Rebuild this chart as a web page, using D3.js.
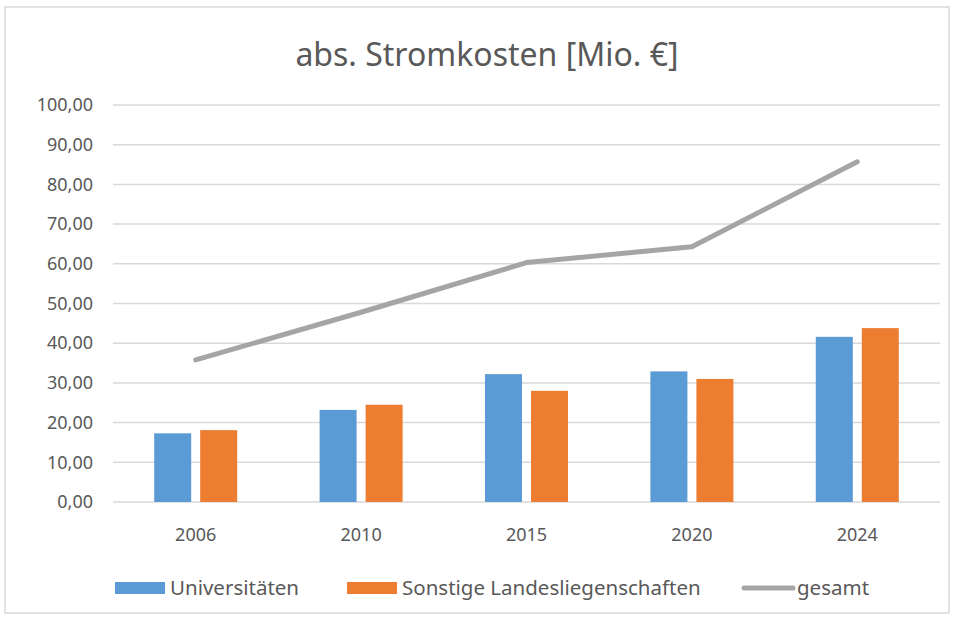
<!DOCTYPE html>
<html>
<head>
<meta charset="utf-8">
<script src="https://cdn.jsdelivr.net/npm/d3@7"></script>
<style>
  body { margin: 0; background: #fff; }
  text { font-family: "Noto Sans", sans-serif; fill: #595959; }
</style>
</head>
<body>
<div id="chart"></div>
<script>
var years = ["2006", "2010", "2015", "2020", "2024"];
var universitaeten = [17.3, 23.2, 32.2, 32.9, 41.6];
var sonstige = [18.1, 24.5, 28.0, 31.0, 43.8];
var gesamt = [35.8, 47.8, 60.3, 64.3, 85.7];
var yTicks = [0, 10, 20, 30, 40, 50, 60, 70, 80, 90, 100];

var blue = "#5b9bd5", orange = "#ed7d31", gray = "#a5a5a5";
var width = 957, height = 621;

var svg = d3.select("#chart").append("svg")
  .attr("width", width)
  .attr("height", height);

// chart frame
svg.append("rect")
  .attr("x", 5).attr("y", 7)
  .attr("width", 944).attr("height", 606)
  .attr("fill", "#fff")
  .attr("stroke", "#d9d9d9")
  .attr("stroke-width", 1.5);

svg.append("text")
  .attr("x", 487).attr("y", 66)
  .attr("text-anchor", "middle")
  .attr("font-size", "32px")
  .text("abs. Stromkosten [Mio. €]");

var x = d3.scaleBand().domain(years).range([113, 940]);
var y = d3.scaleLinear().domain([0, 100]).range([502, 105]);

var fmt = function(d) { return d3.format(".2f")(d).replace(".", ","); };

// grid
svg.append("g").selectAll("line")
  .data(yTicks)
  .enter().append("line")
  .attr("x1", 113).attr("x2", 940)
  .attr("y1", d => y(d)).attr("y2", d => y(d))
  .attr("stroke", "#d9d9d9")
  .attr("stroke-width", 1.5);

var yAxis = svg.append("g")
  .attr("transform", "translate(100,0)")
  .call(d3.axisLeft(y).tickValues(yTicks).tickFormat(fmt).tickSize(0).tickPadding(0));
yAxis.select(".domain").remove();
yAxis.selectAll("text").attr("font-size", "18px").attr("fill", "#595959").attr("x", -7);

var xAxis = svg.append("g")
  .attr("transform", "translate(0,502)")
  .call(d3.axisBottom(x).tickSize(0).tickPadding(0));
xAxis.select(".domain").remove();
xAxis.selectAll("text").attr("font-size", "18px").attr("fill", "#595959").attr("dy", 0).attr("y", 39);

var barW = 37, gap = 9;
var bars = svg.append("g");
bars.selectAll("rect.uni")
  .data(universitaeten)
  .enter().append("rect")
  .attr("class", "uni")
  .attr("x", (d, i) => x(years[i]) + x.bandwidth() / 2 - gap / 2 - barW)
  .attr("y", d => y(d))
  .attr("width", barW)
  .attr("height", d => y(0) - y(d))
  .attr("fill", blue);

bars.selectAll("rect.son")
  .data(sonstige)
  .enter().append("rect")
  .attr("class", "son")
  .attr("x", (d, i) => x(years[i]) + x.bandwidth() / 2 + gap / 2)
  .attr("y", d => y(d))
  .attr("width", barW)
  .attr("height", d => y(0) - y(d))
  .attr("fill", orange);

var line = d3.line()
  .x((d, i) => x(years[i]) + x.bandwidth() / 2)
  .y(d => y(d));

svg.append("path")
  .datum(gesamt)
  .attr("d", line)
  .attr("fill", "none")
  .attr("stroke", gray)
  .attr("stroke-width", 5)
  .attr("stroke-linecap", "round")
  .attr("stroke-linejoin", "round");

// legend
var legend = [
  { name: "Universitäten", color: blue, x: 115, type: "bar" },
  { name: "Sonstige Landesliegenschaften", color: orange, x: 347, type: "bar" },
  { name: "gesamt", color: gray, x: 742, type: "line" }
];
var lg = svg.append("g").selectAll("g")
  .data(legend)
  .enter().append("g")
  .attr("transform", d => `translate(${d.x},588)`);
lg.filter(d => d.type === "bar").append("rect")
  .attr("x", 0).attr("y", -6)
  .attr("width", 50).attr("height", 12)
  .attr("fill", d => d.color);
lg.filter(d => d.type === "line").append("line")
  .attr("x1", 2).attr("x2", 51)
  .attr("y1", 0).attr("y2", 0)
  .attr("stroke", d => d.color)
  .attr("stroke-width", 5)
  .attr("stroke-linecap", "round");
lg.append("text")
  .attr("x", 55)
  .attr("y", 7)
  .attr("font-size", "20.5px")
  .text(d => d.name);
</script>
</body>
</html>
